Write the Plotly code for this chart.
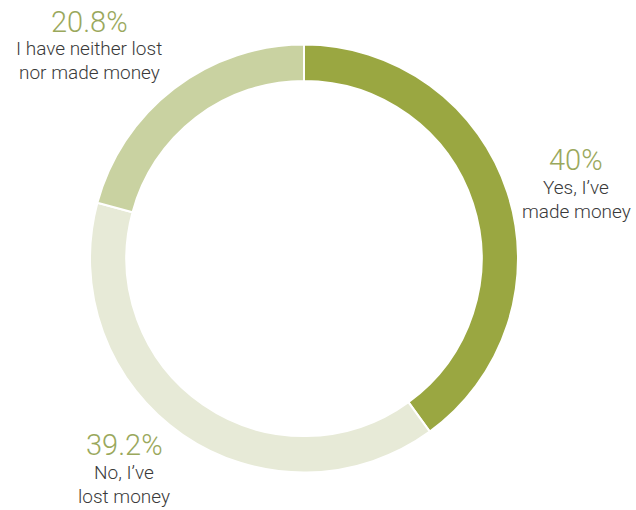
import plotly.graph_objects as go

# Survey answers, clockwise from 12 o'clock
answers = ["Yes, I've made money", "No, I've lost money", "I have neither lost nor made money"]
shares = [40.0, 39.2, 20.8]
share_text = ["40%", "39.2%", "20.8%"]
label_lines = [["Yes, I’ve", "made money"], ["No, I’ve", "lost money"], ["I have neither lost", "nor made money"]]
colors = ["#9aa741", "#e7ead7", "#c9d2a1"]

W, H = 636, 510
cx, cy, r = 304, 258.5, 214

fig = go.Figure(go.Pie(
    labels=answers,
    values=shares,
    sort=False,
    direction="clockwise",
    rotation=0,
    hole=0.83,
    marker=dict(colors=colors, line=dict(color="white", width=2)),
    textinfo="none",
    hoverinfo="label+percent",
    showlegend=False,
    domain=dict(x=[(cx - r) / W, (cx + r) / W], y=[1 - (cy + r) / H, 1 - (cy - r) / H]),
))

# label anchor points (pixel centres) for each answer
label_pos = [(576, 160), (124, 445), (89, 22)]
annotations = []
for (px, py), pct, lines in zip(label_pos, share_text, label_lines):
    annotations.append(dict(
        x=px / W, y=1 - py / H, xref="paper", yref="paper",
        text=pct, showarrow=False, xanchor="center", yanchor="middle",
        font=dict(family="Roboto", size=29, color="#9aa85c", weight=300),
    ))
    for i, line in enumerate(lines):
        annotations.append(dict(
            x=px / W, y=1 - (py + 27 + 24 * i) / H, xref="paper", yref="paper",
            text=line, showarrow=False, xanchor="center", yanchor="middle",
            font=dict(family="Roboto", size=19, color="#3a3a3a", weight=300),
        ))

fig.update_layout(
    width=W, height=H,
    margin=dict(l=0, r=0, t=0, b=0),
    paper_bgcolor="white", plot_bgcolor="white",
    annotations=annotations,
)

fig.write_html("out.html")
